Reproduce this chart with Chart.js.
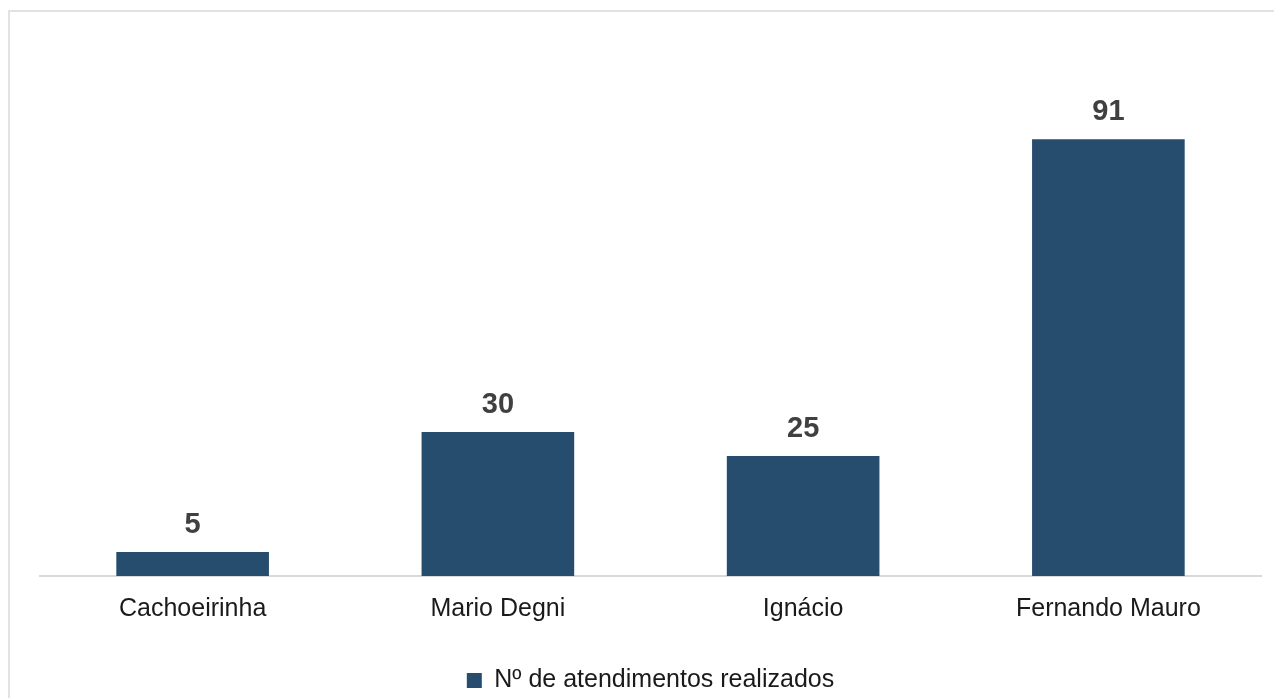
<!DOCTYPE html>
<html>
<head>
<meta charset="utf-8">
<script src="https://cdn.jsdelivr.net/npm/chart.js@4"></script>
<style>
  html, body { margin: 0; padding: 0; background: #fff; overflow: hidden; }
  #wrap { position: relative; width: 1274px; height: 698px; }
  #frame { position: absolute; left: 8px; top: 10px; width: 1300px; height: 800px;
           border-left: 2px solid #e2e2e2; border-top: 2px solid #e2e2e2; }
  canvas { position: absolute; left: 0; top: 0; }
</style>
</head>
<body>
<div id="wrap">
  <div id="frame"></div>
  <canvas id="myChart" width="1274" height="698"></canvas>
</div>
<script>
// categories and values
const categories = ["Cachoeirinha", "Mario Degni", "Ignácio", "Fernando Mauro"];
const atendimentos = [5, 30, 25, 91];
const seriesLabel = "Nº de atendimentos realizados";
const barColor = "#264d6e";

// value labels above the bars
const valueLabels = {
  id: "valueLabels",
  afterDatasetsDraw(chart) {
    const ctx = chart.ctx;
    const meta = chart.getDatasetMeta(0);
    ctx.save();
    ctx.font = "bold 29px 'Liberation Sans', Arial, sans-serif";
    ctx.fillStyle = "#404040";
    ctx.textAlign = "center";
    ctx.textBaseline = "alphabetic";
    meta.data.forEach((bar, i) => {
      ctx.fillText(chart.data.datasets[0].data[i], bar.x, bar.y - 19);
    });
    ctx.restore();
  }
};

let myChart = document.getElementById("myChart").getContext("2d");
let chart = new Chart(myChart, {
  type: "bar",
  data: {
    labels: categories,
    datasets: [{
      label: seriesLabel,
      data: atendimentos,
      backgroundColor: barColor,
      borderWidth: 0,
      barPercentage: 0.5,
      categoryPercentage: 1.0
    }]
  },
  options: {
    responsive: false,
    animation: false,
    layout: { padding: { left: 40, right: 13, top: 96, bottom: -5 } },
    plugins: {
      tooltip: { enabled: false },
      legend: {
        position: "bottom",
        labels: {
          color: "#1a1a1a",
          boxWidth: 15,
          boxHeight: 15,
          padding: 10,
          font: { size: 25, family: "'Liberation Sans', Arial, sans-serif" }
        }
      }
    },
    scales: {
      x: {
        grid: { display: false },
        border: { color: "#d9d9d9", width: 2 },
        ticks: {
          color: "#1a1a1a",
          padding: 10,
          font: { size: 25, family: "'Liberation Sans', Arial, sans-serif" }
        },
        afterFit: (scale) => { scale.height = 82; }
      },
      y: {
        display: false,
        min: 0,
        max: 100
      }
    }
  },
  plugins: [valueLabels]
});
</script>
</body>
</html>
